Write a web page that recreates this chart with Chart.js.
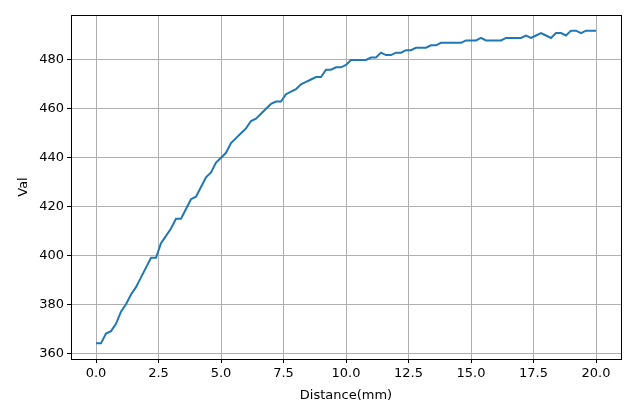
<!DOCTYPE html>
<html>
<head>
<meta charset="utf-8">
<script src="https://cdn.jsdelivr.net/npm/chart.js@4"></script>
<style>
  html, body { margin: 0; padding: 0; background: #fff; }
  #wrap { width: 640px; height: 409px; }
</style>
</head>
<body>
<div id="wrap"><canvas id="myChart" width="640" height="409"></canvas></div>
<script>
// distance step is 0.2 mm, 101 samples
var distances = [];
for (var i = 0; i <= 100; i++) distances.push(+(i * 0.2).toFixed(1));

var values = [
  364, 364, 368, 369, 372, 377, 380, 384, 387, 391,
  395, 399, 399, 405, 408, 411, 415, 415, 419, 423,
  424, 428, 432, 434, 438, 440, 442, 446, 448, 450,
  452, 455, 456, 458, 460, 462, 463, 463, 466, 467,
  468, 470, 471, 472, 473, 473, 476, 476, 477, 477,
  478, 480, 480, 480, 480, 481, 481, 483, 482, 482,
  483, 483, 484, 484, 485, 485, 485, 486, 486, 487,
  487, 487, 487, 487, 488, 488, 488, 489, 488, 488,
  488, 488, 489, 489, 489, 489, 490, 489, 490, 491,
  490, 489, 491, 491, 490, 492, 492, 491, 492, 492,
  492
];

var xTicks = [0, 2.5, 5, 7.5, 10, 12.5, 15, 17.5, 20];
var yTicks = [360, 380, 400, 420, 440, 460, 480];

var points = distances.map(function (d, i) {
  return { x: d, y: values[i] };
});

// black frame round the plot area, like matplotlib spines
var frame = {
  id: "frame",
  afterDraw: function (chart) {
    var a = chart.chartArea;
    var ctx = chart.ctx;
    ctx.save();
    ctx.strokeStyle = "#000";
    ctx.lineWidth = 1;
    ctx.strokeRect(Math.round(a.left) + 0.5, Math.round(a.top) + 0.5,
      Math.round(a.right - a.left), Math.round(a.bottom - a.top));
    ctx.restore();
  }
};

Chart.defaults.font.family = "'DejaVu Sans', sans-serif";
Chart.defaults.font.size = 13;
Chart.defaults.color = "#000";

new Chart("myChart", {
  type: "line",
  data: {
    datasets: [{
      data: points,
      borderColor: "#1f77b4",
      borderWidth: 2,
      pointRadius: 0,
      tension: 0,
      fill: false
    }]
  },
  options: {
    responsive: false,
    animation: false,
    layout: { padding: { left: 12, top: 15, right: 19, bottom: 2 } },
    plugins: {
      legend: { display: false },
      tooltip: { enabled: false }
    },
    scales: {
      x: {
        type: "linear",
        min: -1,
        max: 21,
        afterBuildTicks: function (scale) {
          scale.ticks = xTicks.map(function (v) { return { value: v }; });
        },
        afterFit: function (scale) { scale.height = 48; },
        ticks: {
          autoSkip: false,
          maxRotation: 0,
          padding: 3,
          callback: function (v) { return v.toFixed(1); }
        },
        grid: { color: "#b0b0b0", tickColor: "#000", tickLength: 4, lineWidth: 1 },
        border: { display: false },
        title: { display: true, text: "Distance(mm)" }
      },
      y: {
        min: 357.6,
        max: 498.4,
        afterBuildTicks: function (scale) {
          scale.ticks = yTicks.map(function (v) { return { value: v }; });
        },
        afterFit: function (scale) { scale.width = 59; },
        ticks: { autoSkip: false, padding: 3 },
        grid: { color: "#b0b0b0", tickColor: "#000", tickLength: 4, lineWidth: 1 },
        border: { display: false },
        title: { display: true, text: "Val" }
      }
    }
  },
  plugins: [frame]
});
</script>
</body>
</html>
